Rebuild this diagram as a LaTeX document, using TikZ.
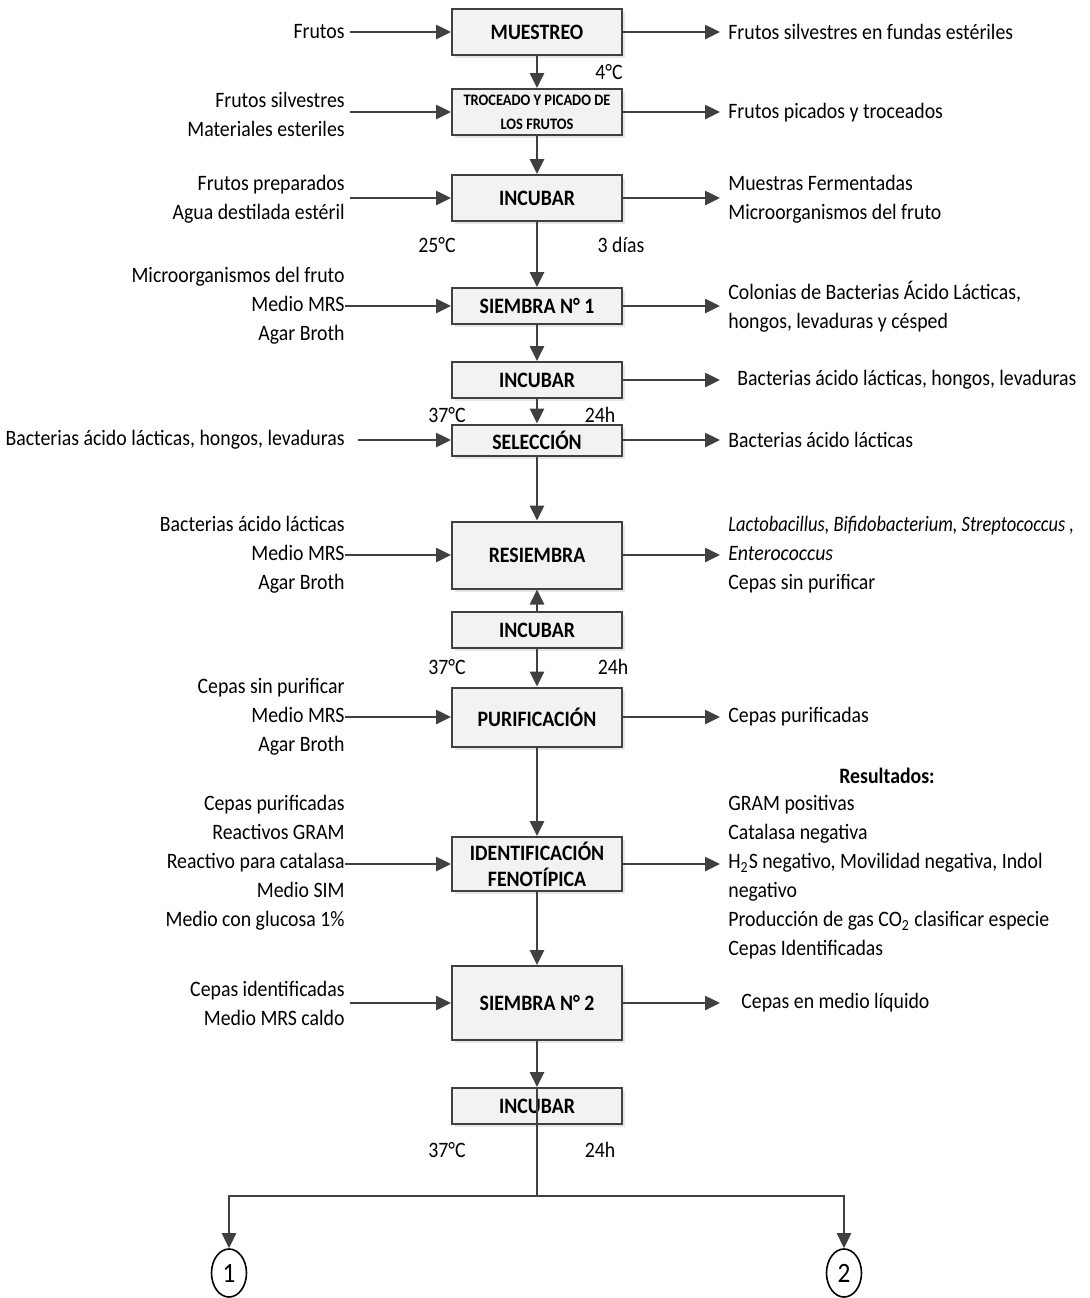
\documentclass[tikz,border=0pt]{standalone}
\usepackage{fontspec}
\setmainfont{Carlito}[FakeStretch=0.9]
\usetikzlibrary{arrows.meta, positioning, shapes.geometric, shadows}
\definecolor{lngray}{HTML}{404040}
\definecolor{boxfill}{HTML}{F2F2F2}

\begin{document}
\begin{tikzpicture}[x=0.5pt, y=-0.5pt,
  >={Triangle[length=7.5pt, width=7pt]},
  every node/.style={font=\fontsize{11}{14.5}\selectfont, inner sep=0pt},
  stage/.style={draw=lngray, line width=1pt, fill=boxfill, minimum width=85pt,
    font=\fontsize{11}{13}\selectfont\bfseries, align=center,
    drop shadow={shadow xshift=1.5pt, shadow yshift=-1.5pt, opacity=0.2}},
  intxt/.style={anchor=east, align=right},
  outtxt/.style={anchor=west, align=left},
  arr/.style={->, line width=1.3pt, lngray},
  lne/.style={line width=1.3pt, lngray},
  endpt/.style={draw=black, line width=0.8pt, ellipse, minimum width=17.5pt,
    minimum height=24pt, font=\fontsize{14}{14}\selectfont},
]
\useasboundingbox (0,0) rectangle (1089,1298);

% === Process stages ===
\node[stage, minimum height=23pt] (muestreo) at (537,32) {MUESTREO};
\node[stage, minimum height=23pt, font=\fontsize{8}{12}\selectfont\bfseries] (troceado) at (537,112)
  {TROCEADO Y PICADO DE\\LOS FRUTOS};
\node[stage, minimum height=23pt] (incubarA) at (537,198) {INCUBAR};
\node[stage, minimum height=18pt] (siembraA) at (537,306) {SIEMBRA N° 1};
\node[stage, minimum height=18pt] (incubarB) at (537,380) {INCUBAR};
\node[stage, minimum height=15.5pt] (seleccion) at (537,440) {SELECCIÓN};
\node[stage, minimum height=33.5pt] (resiembra) at (537,555) {RESIEMBRA};
\node[stage, minimum height=18pt] (incubarC) at (537,630) {INCUBAR};
\node[stage, minimum height=29.5pt] (purif) at (537,717) {PURIFICACIÓN};
\node[stage, minimum height=27pt] (ident) at (537,864) {IDENTIFICACIÓN\\FENOTÍPICA};
\node[stage, minimum height=37pt] (siembraB) at (537,1003) {SIEMBRA N° 2};
\node[stage, minimum height=18pt] (incubarD) at (537,1106) {INCUBAR};

% === Main flow ===
\draw[arr] (muestreo) -- (troceado);
\draw[arr] (troceado) -- (incubarA);
\draw[arr] (incubarA) -- (siembraA);
\draw[arr] (siembraA) -- (incubarB);
\draw[arr] (incubarB) -- (seleccion);
\draw[arr] (seleccion) -- (resiembra);
\draw[arr] (incubarC) -- (resiembra);
\draw[arr] (incubarC) -- (purif);
\draw[arr] (purif) -- (ident);
\draw[arr] (ident) -- (siembraB);
\draw[arr] (siembraB) -- (incubarD);

% === Inputs (left) ===
\node[intxt] (inMuestreo) at (345,32) {Frutos};
\node[intxt] (inTroceado) at (345,114) {Frutos silvestres\\Materiales esteriles};
\node[intxt] (inIncubarA) at (345,199) {Frutos preparados\\Agua destilada estéril};
\node[intxt] (inSiembraA) at (345,306) {Microorganismos del fruto\\Medio MRS\\Agar Broth};
\node[intxt] (inSeleccion) at (345,440) {Bacterias ácido lácticas, hongos, levaduras};
\node[intxt] (inResiembra) at (345,555) {Bacterias ácido lácticas\\Medio MRS\\Agar Broth};
\node[intxt] (inPurif) at (345,717) {Cepas sin purificar\\Medio MRS\\Agar Broth};
\node[intxt] (inIdent) at (345,863) {Cepas purificadas\\Reactivos GRAM\\Reactivo para catalasa\\Medio SIM\\Medio con glucosa 1\%};
\node[intxt] (inSiembraB) at (345,1003) {Cepas identificadas\\Medio MRS caldo};

\draw[arr, shorten <=2.5pt] (inMuestreo.east) -- (muestreo.west);
\draw[arr, shorten <=2.5pt] (inTroceado.east |- troceado.west) -- (troceado.west);
\draw[arr, shorten <=2.5pt] (inIncubarA.east |- incubarA.west) -- (incubarA.west);
\draw[arr] (inSiembraA.east |- siembraA.west) -- (siembraA.west);
\draw[arr, shorten <=6.5pt] (inSeleccion.east) -- (seleccion.west);
\draw[arr] (inResiembra.east |- resiembra.west) -- (resiembra.west);
\draw[arr] (inPurif.east |- purif.west) -- (purif.west);
\draw[arr] (inIdent.east |- ident.west) -- (ident.west);
\draw[arr, shorten <=2.5pt] (inSiembraB.east |- siembraB.west) -- (siembraB.west);

% === Outputs (right) ===
\node[outtxt] (outMuestreo) at (728,32) {Frutos silvestres en fundas estériles};
\node[outtxt] (outTroceado) at (728,113) {Frutos picados y troceados};
\node[outtxt] (outIncubarA) at (728,199) {Muestras Fermentadas\\Microorganismos del fruto};
\node[outtxt] (outSiembraA) at (728,307) {Colonias de Bacterias Ácido Lácticas,\\hongos, levaduras y césped};
\node[outtxt] (outIncubarB) at (737,380) {Bacterias ácido lácticas, hongos, levaduras};
\node[outtxt] (outSeleccion) at (728,440) {Bacterias ácido lácticas};
\node[outtxt] (outResiembra) at (728,555)
  {{\addfontfeature{FakeStretch=0.84}\itshape Lactobacillus, Bifidobacterium, Streptococcus ,}\\
   \itshape Enterococcus\\Cepas sin purificar};
\node[outtxt] (outPurif) at (728,717) {Cepas purificadas};
\node[font=\fontsize{11}{14.5}\selectfont\bfseries] (resultados) at (887,776) {Resultados:};
\node[outtxt] (outIdent) at (728,877.5) {GRAM positivas\\Catalasa negativa\\
  H\textsubscript{2}S negativo, Movilidad negativa, Indol\\negativo\\
  Producción de gas CO\textsubscript{2} clasificar especie\\Cepas Identificadas};
\node[outtxt] (outSiembraB) at (741,1003) {Cepas en medio líquido};

\draw[arr, shorten >=4pt] (muestreo.east) -- (muestreo.east -| outMuestreo.west);
\draw[arr, shorten >=4pt] (troceado.east) -- (troceado.east -| outTroceado.west);
\draw[arr, shorten >=4pt] (incubarA.east) -- (incubarA.east -| outIncubarA.west);
\draw[arr, shorten >=4pt] (siembraA.east) -- (siembraA.east -| outSiembraA.west);
\draw[arr, shorten >=8.5pt] (incubarB.east) -- (incubarB.east -| outIncubarB.west);
\draw[arr, shorten >=4pt] (seleccion.east) -- (seleccion.east -| outSeleccion.west);
\draw[arr, shorten >=4pt] (resiembra.east) -- (resiembra.east -| outResiembra.west);
\draw[arr, shorten >=4pt] (purif.east) -- (purif.east -| outPurif.west);
\draw[arr, shorten >=4pt] (ident.east) -- (ident.east -| outIdent.west);
\draw[arr, shorten >=10.5pt] (siembraB.east) -- (siembraB.east -| outSiembraB.west);

% === Conditions ===
\node (tMuestreo) at (609,72) {4°C};
\node (tIncubarA) at (437,245) {25°C};
\node (dIncubarA) at (621,245) {3 días};
\node (tIncubarB) at (447,415) {37°C};
\node (dIncubarB) at (600,415) {24h};
\node (tIncubarC) at (447,667) {37°C};
\node (dIncubarC) at (613,667) {24h};
\node (tIncubarD) at (447,1150) {37°C};
\node (dIncubarD) at (600,1150) {24h};

% === Split to connectors ===
\coordinate (split) at (537,1196);
\node[endpt] (uno) at (229,1273) {1};
\node[endpt] (dos) at (844,1273) {2};
\draw[lne] (incubarD.north) -- (split);
\draw[arr] (split) -| (uno);
\draw[arr] (split) -| (dos);

\end{tikzpicture}
\end{document}
